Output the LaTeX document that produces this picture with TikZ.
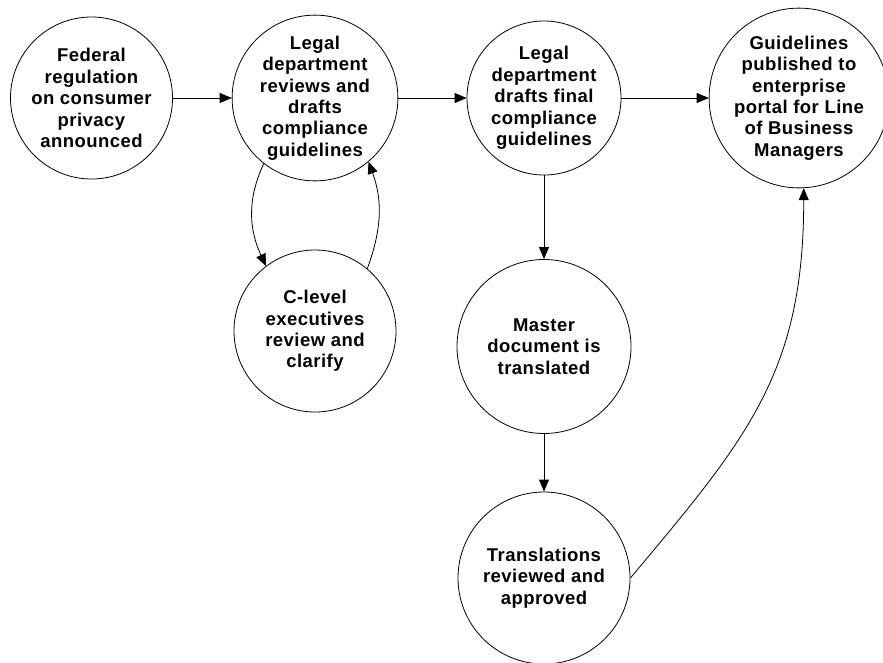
\documentclass[tikz,border=0pt]{standalone}
\usepackage{fontspec}
\setmainfont{Liberation Sans}[LetterSpace=2.5]
\usetikzlibrary{arrows.meta}

\begin{document}
\begin{tikzpicture}[x=1pt,y=-1pt,->,>={Triangle[length=12pt,width=10pt]},
  line width=0.8pt,node distance=229pt]
  \tikzstyle{event}=[circle,draw,inner sep=0pt,align=center,
    font=\fontsize{18.5}{21.4}\selectfont\bfseries]
  \useasboundingbox (0,0) rectangle (883,662);

  \node[event,minimum size=162pt] (fed) at (91.5,98)
    {Federal\\regulation\\on consumer\\privacy\\announced};
  \node[event,minimum size=164pt] (legal) [right of=fed,xshift=-5.5pt]
    {Legal\\department\\reviews and\\drafts\\compliance\\guidelines};
  \node[event,minimum size=154pt] (final) [right of=legal]
    {Legal\\department\\drafts final\\compliance\\guidelines};
  \node[event,minimum size=166pt] (guide) [right of=final,xshift=26pt]
    {Guidelines\\published to\\enterprise\\portal for Line\\of Business\\Managers};
  \node[event,minimum size=162pt] (clevel) [below of=legal,yshift=-4pt]
    {C-level\\executives\\review and\\clarify};
  \node[event,minimum size=174pt] (master) [below of=final,yshift=-19.5pt]
    {Master\\document is\\translated};
  \node[event,minimum size=172pt] (trans) [below of=master,yshift=-2.5pt]
    {Translations\\reviewed and\\approved};

  \path (fed)       edge                          (legal)
        (legal)     edge                          (final)
        (final)     edge                          (guide)
                    edge                          (master)
        (master)    edge                          (trans)
        (legal.232) edge [out=245,in=115]         (clevel.127)
        (clevel.50) edge [out=70,in=290]          (legal.310)
        (trans.east) edge [out=50,in=270,looseness=1.1] (guide.273);
\end{tikzpicture}
\end{document}
